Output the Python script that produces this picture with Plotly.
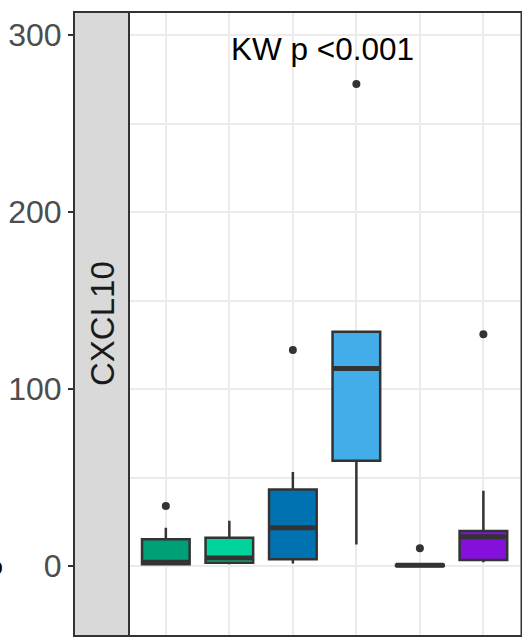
import plotly.graph_objects as go

W, H = 522, 637

# ---- data ----
groups = ["G1", "G2", "G3", "G4", "G5", "G6"]
colors = ["#00A077", "#00D39B", "#0072B2", "#43ADEA", "#E69F00", "#8510DC"]
q1 = [1.0, 1.9, 3.8, 59.5, 0.0, 3.4]
median = [2.2, 4.6, 21.7, 111.6, 0.4, 16.6]
q3 = [15.1, 16.0, 43.3, 132.4, 0.8, 19.8]
lowerfence = [0.3, 1.0, 1.5, 12.2, 0.0, 2.1]
upperfence = [21.7, 25.6, 53.1, 132.4, 0.8, 42.5]
outlier_group = [0, 2, 3, 4, 5]
outlier_value = [33.9, 122.0, 272.3, 10.0, 131.0]
y_ticks = [0, 100, 200, 300]
facet_label = "CXCL10"
test_label = "KW p <0.001"

DARK = "#333333"
GRID = "#EBEBEB"
FONT = "Liberation Sans, Arial, Helvetica, sans-serif"
box_w = 0.75

fig = go.Figure()
for i, g in enumerate(groups):
    fig.add_trace(go.Box(
        x=[i], q1=[q1[i]], median=[median[i]], q3=[q3[i]],
        lowerfence=[lowerfence[i]], upperfence=[upperfence[i]],
        fillcolor=colors[i], line=dict(color=DARK, width=2.5),
        width=box_w, whiskerwidth=0, boxpoints=False, name=g,
        showlegend=False, hoverinfo="skip",
    ))

# thicker median bars (ggplot style)
mx, my = [], []
for i, m in enumerate(median):
    mx += [i - box_w / 2, i + box_w / 2, None]
    my += [m, m, None]
fig.add_trace(go.Scatter(x=mx, y=my, mode="lines",
                         line=dict(color=DARK, width=5),
                         showlegend=False, hoverinfo="skip"))

# outliers
fig.add_trace(go.Scatter(x=outlier_group, y=outlier_value, mode="markers",
                         marker=dict(color=DARK, size=8),
                         showlegend=False, hoverinfo="skip"))

px_x = lambda p: p / W
px_y = lambda p: 1 - p / H

fig.update_layout(
    width=W, height=H,
    margin=dict(l=0, r=0, t=0, b=0),
    paper_bgcolor="white", plot_bgcolor="white",
    font=dict(family=FONT),
    xaxis=dict(domain=[px_x(129), px_x(521.5)], range=[-0.58, 5.6],
               tickvals=list(range(len(groups))), ticktext=groups,
               showticklabels=False, ticks="", showgrid=True,
               gridcolor=GRID, gridwidth=2, zeroline=False, showline=False),
    yaxis=dict(domain=[px_y(636), px_y(12)], range=[-39.5, 313.0],
               anchor="free", position=px_x(74),
               tickvals=y_ticks, ticks="outside", ticklen=6, tickwidth=1.5,
               tickcolor=DARK, tickfont=dict(size=32, color="#4D4D4D", family=FONT),
               showgrid=True, gridcolor=GRID, gridwidth=2, zeroline=False,
               showline=False,
               minor=dict(dtick=50, showgrid=True, gridcolor=GRID, gridwidth=1.5)),
)

# facet strip on the left
fig.add_shape(type="rect", xref="paper", yref="y domain",
              x0=px_x(74), x1=px_x(129), y0=0, y1=1,
              fillcolor="#D9D9D9", line=dict(color=DARK, width=2), layer="above")
fig.add_annotation(text=facet_label, xref="paper", yref="y domain",
                   x=px_x(102), y=0.5, textangle=-90, showarrow=False,
                   font=dict(size=33, color="#1A1A1A", family=FONT),
                   xanchor="center", yanchor="middle")

# panel border
fig.add_shape(type="rect", xref="x domain", yref="y domain",
              x0=0, x1=1, y0=0, y1=1, line=dict(color=DARK, width=2),
              fillcolor="rgba(0,0,0,0)", layer="above")

# test annotation
fig.add_annotation(text=test_label, xref="paper", yref="paper",
                   x=px_x(322), y=px_y(49), showarrow=False,
                   font=dict(size=31.5, color="black", family=FONT),
                   xanchor="center", yanchor="middle")

# clipped glyph at far left edge (as in the reference crop)
fig.add_annotation(text="<b>o</b>", xref="paper", yref="paper",
                   x=px_x(5), y=px_y(566), showarrow=False,
                   font=dict(size=26, color="black", family=FONT),
                   xanchor="right", yanchor="middle")

fig.write_html("out.html", config={"displayModeBar": False},
               post_script="document.body.style.margin='0';document.body.style.padding='0';")
